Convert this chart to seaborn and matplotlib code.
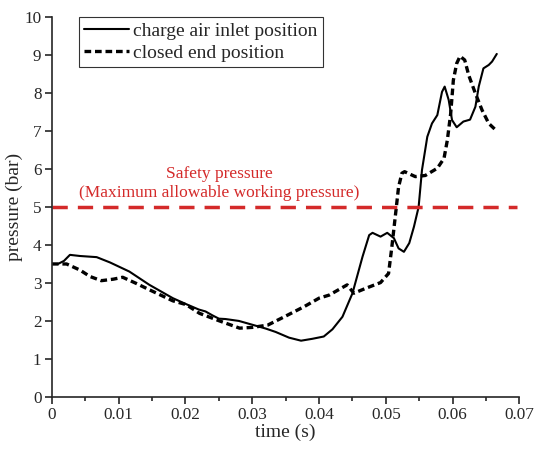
import numpy as np
import pandas as pd
import matplotlib
matplotlib.use("Agg")
import matplotlib.pyplot as plt
import seaborn as sns
from matplotlib.ticker import MultipleLocator, FuncFormatter

# charge air inlet position
t_inlet = [0.0, 0.0009, 0.0018, 0.0027, 0.0042, 0.0067, 0.0087, 0.0116, 0.0146, 0.0181,
           0.020, 0.022, 0.023, 0.024, 0.025, 0.026, 0.028, 0.030, 0.032, 0.0335,
           0.0355, 0.0373, 0.039, 0.0407, 0.0420, 0.0435, 0.0450, 0.0465, 0.0475, 0.0480,
           0.0492, 0.0502, 0.0512, 0.0519, 0.0527, 0.0535, 0.0542, 0.0549, 0.0554, 0.0562,
           0.0569, 0.0577, 0.0584, 0.0588, 0.0594, 0.0599, 0.0606, 0.0616, 0.0626, 0.0634,
           0.0639, 0.0646, 0.0654, 0.0659, 0.0666]
p_inlet = [3.5, 3.5, 3.58, 3.74, 3.71, 3.68, 3.54, 3.3, 2.95, 2.6,
           2.45, 2.3, 2.25, 2.15, 2.06, 2.05, 2.0, 1.9, 1.8, 1.71,
           1.56, 1.48, 1.53, 1.59, 1.78, 2.11, 2.73, 3.69, 4.26, 4.32,
           4.22, 4.32, 4.18, 3.91, 3.82, 4.05, 4.48, 5.0, 5.97, 6.85,
           7.2, 7.42, 8.03, 8.17, 7.82, 7.29, 7.1, 7.25, 7.3, 7.64,
           8.17, 8.65, 8.74, 8.83, 9.03]

# closed end position
t_closed = [0.0, 0.0022, 0.0042, 0.0057, 0.0074, 0.0092, 0.0106, 0.0126, 0.0146, 0.0181,
            0.0201, 0.0221, 0.0251, 0.0281, 0.0300, 0.0323, 0.0348, 0.0378, 0.0400, 0.0415,
            0.0442, 0.0452, 0.0470, 0.0492, 0.0504, 0.0509, 0.0514, 0.0519, 0.0524, 0.0528,
            0.0544, 0.0559, 0.0577, 0.0587, 0.0592, 0.0597, 0.0601, 0.0606, 0.0611, 0.0618,
            0.0624, 0.0634, 0.0644, 0.0654, 0.0663]
p_closed = [3.5, 3.5, 3.34, 3.17, 3.06, 3.1, 3.15, 2.99, 2.82, 2.53,
            2.43, 2.2, 2.0, 1.81, 1.83, 1.89, 2.11, 2.38, 2.6, 2.68,
            2.95, 2.73, 2.86, 3.01, 3.25, 3.96, 4.74, 5.53, 5.89, 5.93,
            5.8, 5.83, 6.02, 6.28, 6.76, 7.46, 8.34, 8.78, 8.97, 8.87,
            8.47, 7.99, 7.55, 7.2, 7.05]

safety = 5.0

sns.set_style("ticks")
plt.rcParams['font.family'] = ['Liberation Serif', 'DejaVu Serif']
plt.rcParams['font.size'] = 13

fig = plt.figure(figsize=(5.35, 4.5), dpi=100)
ax = fig.add_axes([0.097, 0.118, 0.874, 0.844])

sns.lineplot(x=t_inlet, y=p_inlet, ax=ax, color='black', linewidth=1.5,
             sort=False, estimator=None, label='charge air inlet position')
sns.lineplot(x=t_closed, y=p_closed, ax=ax, color='black', linewidth=2.4,
             sort=False, estimator=None, label='closed end position')
ax.lines[1].set_dashes([2.0, 1.15])

ax.axhline(safety, xmin=0, xmax=0.994, color='#d42a2a', linewidth=2.5, dashes=(4.4, 2.9))
ax.text(0.0251, 5.88, 'Safety pressure', color='#d42a2a', ha='center', va='center', fontsize=12.5)
ax.text(0.0251, 5.38, '(Maximum allowable working pressure)', color='#d42a2a',
        ha='center', va='center', fontsize=12.5)

ax.set_xlim(0, 0.07)
ax.set_ylim(0, 10)
ax.xaxis.set_major_locator(MultipleLocator(0.01))
ax.xaxis.set_minor_locator(MultipleLocator(0.005))
ax.yaxis.set_major_locator(MultipleLocator(1))
ax.xaxis.set_major_formatter(FuncFormatter(lambda v, p: '%g' % round(v, 3)))
ax.tick_params(axis='both', which='major', direction='out', length=5, width=1.2,
               labelsize=12.3, pad=2.5)
ax.tick_params(axis='x', which='minor', direction='out', length=3, width=1.2)
for s in ['left', 'bottom']:
    ax.spines[s].set_linewidth(1.2)
sns.despine(ax=ax)

ax.set_xlabel('time (s)', fontsize=14, labelpad=0)
ax.set_ylabel('pressure (bar)', fontsize=14, labelpad=1)

leg = ax.legend(loc='upper left', bbox_to_anchor=(0.058, 1.0), frameon=True, fancybox=False,
                edgecolor='black', fontsize=14, handlelength=2.3, borderpad=0.25,
                labelspacing=0.25, handletextpad=0.25, borderaxespad=0)
leg.get_frame().set_linewidth(0.8)

fig.savefig('out.png', dpi=100)
